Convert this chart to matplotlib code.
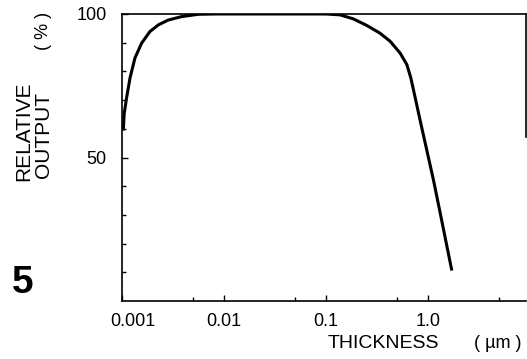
import matplotlib
matplotlib.use("Agg")
from matplotlib import pyplot as plt
from matplotlib import transforms
from matplotlib.ticker import FixedLocator, NullFormatter

# film thickness (um) vs relative output (%)
thickness = [0.00103, 0.00105, 0.00111, 0.00120, 0.00134, 0.00156, 0.00188,
             0.00227, 0.00284, 0.00385, 0.0056, 0.0082, 0.02, 0.05, 0.1,
             0.137, 0.185, 0.251, 0.338, 0.424, 0.531, 0.618, 0.676, 0.746,
             0.835, 0.971, 1.127, 1.312, 1.525, 1.707]
output = [59.4, 65.2, 70.9, 77.8, 84.7, 89.9, 93.9,
          96.2, 97.9, 99.1, 99.9, 100, 100, 100, 100,
          99.7, 98.3, 96.0, 93.3, 90.5, 86.4, 82.4, 77.8, 70.9,
          62.9, 52.5, 42.2, 30.7, 19.2, 10.6]

x_major = [0.001, 0.01, 0.1, 1.0]
x_labels = ["0.001", "0.01", "0.1", "1.0"]
x_minor = [0.005, 0.05, 0.5, 5.0]
y_major = [50, 100]
y_minor = [10, 20, 30, 40, 60, 70, 80, 90]

font = "Liberation Sans"

W, H = 527, 359
fig = plt.figure(figsize=(W / 100, H / 100), dpi=100)
ax = fig.add_axes([122 / W, 1 - 301 / H, (526 - 122) / W, (301 - 14) / H])

ax.plot(thickness, output, color="black", lw=2.2, solid_capstyle="butt")

ax.set_xscale("log")
ax.set_xlim(0.001, 9.1)
ax.set_ylim(0, 100)

ax.xaxis.set_major_locator(FixedLocator(x_major))
ax.set_xticklabels(x_labels)
ax.xaxis.set_minor_locator(FixedLocator(x_minor))
ax.xaxis.set_minor_formatter(NullFormatter())
ax.yaxis.set_major_locator(FixedLocator(y_major))
ax.yaxis.set_minor_locator(FixedLocator(y_minor))

ax.tick_params(which="both", direction="in", width=1.0, color="black")
ax.tick_params(which="major", length=4, labelsize=13)
ax.tick_params(axis="x", which="major", pad=9)
ax.tick_params(axis="y", which="major", pad=11)
ax.tick_params(which="minor", length=3)
for lab in ax.get_xticklabels() + ax.get_yticklabels():
    lab.set_family(font)

# first x label sits a little right of the frame corner
first = ax.get_xticklabels()[0]
first.set_transform(first.get_transform()
                    + transforms.ScaledTranslation(11 / 100, 0, fig.dpi_scale_trans))

for side in ["left", "bottom", "top", "right"]:
    ax.spines[side].set_linewidth(1.2)
ax.spines["right"].set_bounds(57, 100)

fig.text(24 / W, 1 - 131 / H, "RELATIVE", rotation=90, ha="center", va="center",
         family=font, fontsize=15)
fig.text(43 / W, 1 - 135 / H, "OUTPUT", rotation=90, ha="center", va="center",
         family=font, fontsize=15)
fig.text(43 / W, 1 - 31 / H, "( % )", rotation=90, ha="center", va="center",
         family=font, fontsize=13)
fig.text(383 / W, 1 - 343 / H, "THICKNESS", ha="center", va="center",
         family=font, fontsize=14)
fig.text(498 / W, 1 - 343 / H, "( \u00b5m )", ha="center", va="center",
         family=font, fontsize=13)
fig.text(23 / W, 1 - 283 / H, "5", ha="center", va="center",
         family=font, fontsize=28, weight="bold")

fig.savefig("out.png", dpi=100)
